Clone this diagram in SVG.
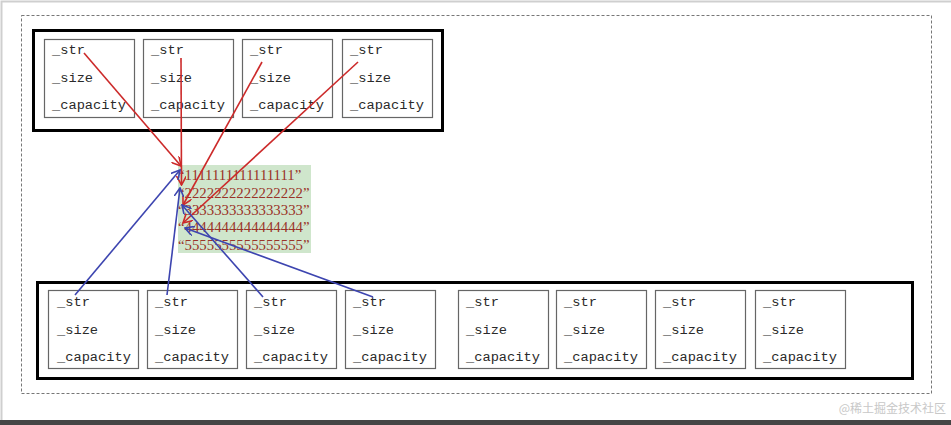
<svg xmlns="http://www.w3.org/2000/svg" width="951" height="425" viewBox="0 0 951 425">
<style>
.frame{fill:none;stroke:#000;stroke-width:3}
.box{fill:#fff;stroke:#666;stroke-width:1.2}
.lbl{font-family:"Liberation Mono","DejaVu Sans Mono",monospace;font-size:13.7px;fill:#2a2a2a}
.s{font-family:"Liberation Serif","Noto Sans CJK SC",serif;font-size:14.8px;fill:#9a3328}
.red{stroke:#cc2a2a;stroke-width:1.6;fill:none}
.blue{stroke:#3d45b0;stroke-width:1.6;fill:none}
</style>
<defs>
<marker id="ar" viewBox="0 0 10 10" refX="9" refY="5" markerWidth="10" markerHeight="10" markerUnits="userSpaceOnUse" orient="auto">
<path d="M0,0 L9,5 L0,10" fill="none" stroke="#cc2a2a" stroke-width="1.6"/>
</marker>
<marker id="ab" viewBox="0 0 10 10" refX="9" refY="5" markerWidth="10" markerHeight="10" markerUnits="userSpaceOnUse" orient="auto">
<path d="M0,0 L9,5 L0,10" fill="none" stroke="#3d45b0" stroke-width="1.6"/>
</marker>
<g id="fields">
<text class="lbl" x="8" y="15">_str</text>
<text class="lbl" x="8" y="43">_size</text>
<text class="lbl" x="8" y="70">_capacity</text>
</g>
</defs>
<rect x="0" y="0" width="951" height="425" fill="#fff"/>
<path d="M1.5,425 V1.5 H951" fill="none" stroke="#cfcfcf" stroke-width="2"/>
<rect x="0" y="420" width="951" height="5" fill="#454545"/>
<rect x="21.5" y="15.5" width="910" height="378" fill="none" stroke="#777" stroke-width="1" stroke-dasharray="3,2"/>

<g id="top-frame">
<rect class="frame" x="33.5" y="30.5" width="409" height="100"/>
</g>
<g id="t1"><rect class="box" x="44.5" y="39.5" width="90" height="78"/><use href="#fields" x="44" y="39"/></g>
<g id="t2"><rect class="box" x="143.5" y="39.5" width="90" height="78"/><use href="#fields" x="143" y="39"/></g>
<g id="t3"><rect class="box" x="242.5" y="39.5" width="90" height="78"/><use href="#fields" x="242" y="39"/></g>
<g id="t4"><rect class="box" x="342.5" y="39.5" width="90" height="78"/><use href="#fields" x="342" y="39"/></g>

<g id="strings">
<rect x="178" y="165" width="133" height="88" fill="#cfe6cc"/>
<text class="s" x="178" y="179.5">“1111111111111111”</text>
<text class="s" x="178" y="197.5">“2222222222222222”</text>
<text class="s" x="178" y="215">“3333333333333333”</text>
<text class="s" x="178" y="232">“4444444444444444”</text>
<text class="s" x="178" y="249.5">“5555555555555555”</text>
</g>

<g id="bottom-frame">
<rect class="frame" x="37.5" y="282.5" width="875" height="96"/>
</g>
<g id="b1"><rect class="box" x="48.5" y="290.5" width="90" height="78"/><use href="#fields" x="49" y="291"/></g>
<g id="b2"><rect class="box" x="147.5" y="290.5" width="90" height="78"/><use href="#fields" x="147" y="291"/></g>
<g id="b3"><rect class="box" x="246.5" y="290.5" width="90" height="78"/><use href="#fields" x="246" y="291"/></g>
<g id="b4"><rect class="box" x="345.5" y="290.5" width="90" height="78"/><use href="#fields" x="345" y="291"/></g>
<g id="b5"><rect class="box" x="458.5" y="290.5" width="90" height="78"/><use href="#fields" x="458" y="291"/></g>
<g id="b6"><rect class="box" x="556.5" y="290.5" width="90" height="78"/><use href="#fields" x="556" y="291"/></g>
<g id="b7"><rect class="box" x="655.5" y="290.5" width="90" height="78"/><use href="#fields" x="655" y="291"/></g>
<g id="b8"><rect class="box" x="755.5" y="290.5" width="90" height="78"/><use href="#fields" x="755" y="291"/></g>

<g id="connectors">
<line class="red" x1="84" y1="53" x2="181" y2="166" marker-end="url(#ar)"/>
<line class="red" x1="181" y1="58" x2="181.5" y2="185" marker-end="url(#ar)"/>
<line class="red" x1="262" y1="62" x2="183" y2="205" marker-end="url(#ar)"/>
<line class="red" x1="358" y1="62" x2="183" y2="223" marker-end="url(#ar)"/>
<line class="blue" x1="75" y1="295" x2="180" y2="170" marker-end="url(#ab)"/>
<line class="blue" x1="167" y1="295" x2="180" y2="188" marker-end="url(#ab)"/>
<line class="blue" x1="263" y1="297" x2="182" y2="205" marker-end="url(#ab)"/>
<line class="blue" x1="373" y1="297" x2="185" y2="228" marker-end="url(#ab)"/>
</g>

<text x="946" y="413" text-anchor="end" font-family="'Noto Sans CJK SC',sans-serif" font-size="12" fill="#c8c8c8">@稀土掘金技术社区</text>
</svg>
